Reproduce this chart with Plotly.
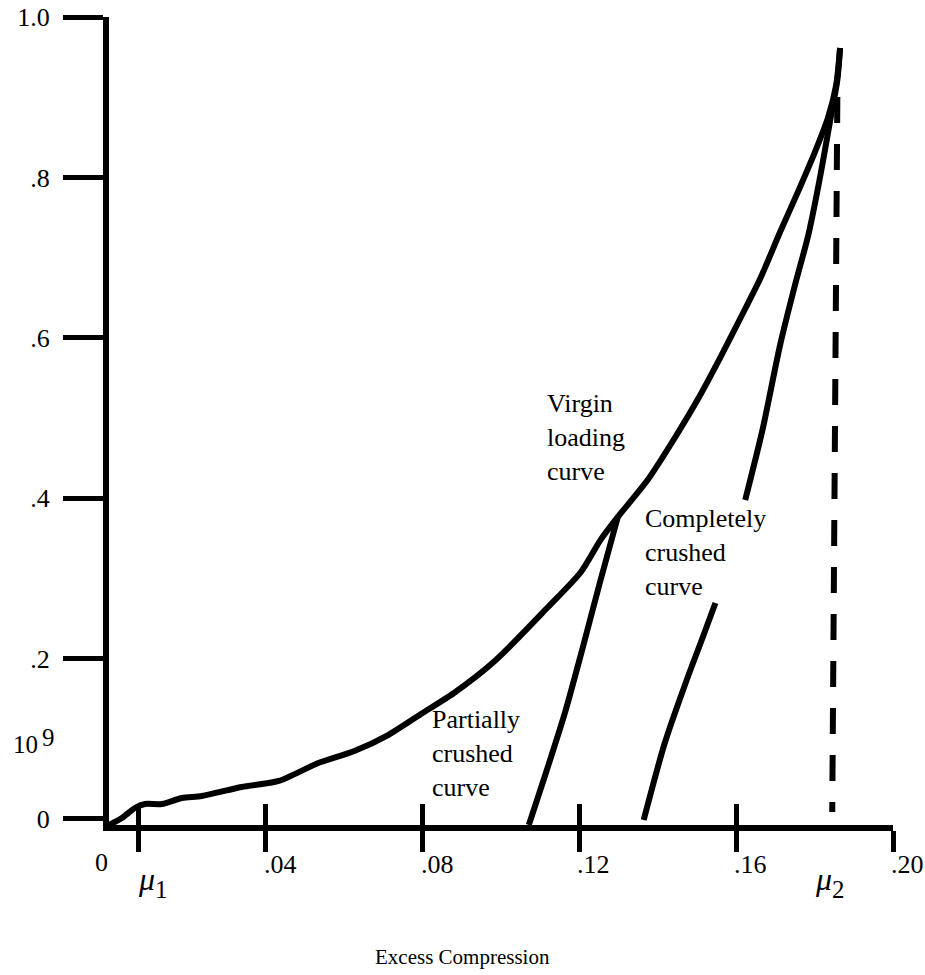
import plotly.graph_objects as go

# ---------------- data ----------------
virgin_x = [0.0, 0.0033, 0.0066, 0.0092, 0.0135, 0.0186, 0.0237, 0.0338, 0.0433,
            0.0534, 0.0626, 0.0712, 0.0796, 0.0880, 0.0987, 0.1120, 0.1204, 0.1254,
            0.1298, 0.1374, 0.1440, 0.1501, 0.1560, 0.1611, 0.1662, 0.1712, 0.1763,
            0.1801, 0.1834, 0.1855, 0.1865]
virgin_y = [-0.0075, 0.0012, 0.0137, 0.0187, 0.0187, 0.0262, 0.0287, 0.0399, 0.0474,
            0.0698, 0.0848, 0.1047, 0.1309, 0.1571, 0.1983, 0.2643, 0.3080, 0.3480,
            0.3766, 0.4227, 0.4726, 0.5224, 0.5760, 0.6247, 0.6746, 0.7319, 0.7880,
            0.8317, 0.8741, 0.9152, 0.9613]

partial_x = [0.1298, 0.1254, 0.1209, 0.1163, 0.1117, 0.1071]
partial_y = [0.3766, 0.2980, 0.2145, 0.1322, 0.0611, -0.0075]

complete_x = [0.1364, 0.1417, 0.1471, 0.1514, 0.1547, None,
              0.1623, 0.1667, 0.1712, 0.1750, 0.1784, 0.1814, 0.1840, 0.1858, 0.1865]
complete_y = [-0.0012, 0.0935, 0.1696, 0.2257, 0.2693, None,
              0.3978, 0.4850, 0.5910, 0.6658, 0.7282, 0.8005, 0.8716, 0.9214, 0.9613]

limit_x = [0.1858, 0.1845]
limit_y = [0.9002, 0.0087]

x_tick_vals = [0.0076, 0.04, 0.08, 0.12, 0.16, 0.20]
x_label_vals = [0.04, 0.08, 0.12, 0.16, 0.20]
x_label_text = [".04", ".08", ".12", ".16", ".20"]
y_tick_vals = [0, 0.2, 0.4, 0.6, 0.8, 1.0]
y_tick_text = ["0", ".2", ".4", ".6", ".8", "1.0"]
mu_x = [0.0076, 0.1804]
mu_sub = ["1", "2"]

x_title = "Excess Compression"
# ---------------------------------------------------------------

W, H = 925, 975
L, R, T, B = 109, 893, 17, 825
FONT = "Liberation Serif, Times New Roman, serif"


def px_x(px):
    return (px - L) / (R - L)


def px_y(py):
    return (B - py) / (B - T)


fig = go.Figure()
line_style = dict(color="black", width=6)
fig.add_trace(go.Scatter(x=virgin_x, y=virgin_y, mode="lines", line=line_style,
                         line_shape="spline", line_smoothing=0.7, hoverinfo="skip"))
fig.add_trace(go.Scatter(x=partial_x, y=partial_y, mode="lines", line=line_style,
                         line_shape="spline", line_smoothing=0.7, hoverinfo="skip"))
fig.add_trace(go.Scatter(x=complete_x, y=complete_y, mode="lines", line=line_style,
                         line_shape="spline", line_smoothing=0.7, connectgaps=False,
                         hoverinfo="skip"))
fig.add_trace(go.Scatter(x=limit_x, y=limit_y, mode="lines",
                         line=dict(color="black", width=6, dash="26px,21px"),
                         hoverinfo="skip"))
# invisible trace on the overlay axis so its inside ticks render
fig.add_trace(go.Scatter(x=[0, 0.2], y=[0, 0], xaxis="x2", mode="lines",
                         line=dict(width=0), hoverinfo="skip"))

tick_font = dict(size=26, family=FONT, color="black")
annotations = []
for v, t in zip(x_label_vals, x_label_text):
    annotations.append(dict(x=v, y=px_y(864), xref="x", yref="paper", text=t,
                            showarrow=False, xanchor="left", yanchor="middle",
                            xshift=-4, font=tick_font))
annotations.append(dict(x=0, y=px_y(862), xref="x", yref="paper", text="0",
                        showarrow=False, xanchor="right", yanchor="middle", xshift=1,
                        font=tick_font))
for mx, sub in zip(mu_x, mu_sub):
    annotations.append(dict(x=mx, y=px_y(879), xref="x", yref="paper",
                            text="<i>μ</i>", showarrow=False,
                            xanchor="left", yanchor="middle", xshift=-3,
                            font=dict(size=32, family=FONT, color="black")))
    annotations.append(dict(x=mx, y=px_y(889), xref="x", yref="paper",
                            text=sub, showarrow=False,
                            xanchor="left", yanchor="middle", xshift=14,
                            font=dict(size=25, family=FONT, color="black")))
annotations.append(dict(x=px_x(11), y=px_y(744), xref="paper", yref="paper", text="10",
                        showarrow=False, xanchor="left", yanchor="middle",
                        font=dict(size=25, family=FONT, color="black")))
annotations.append(dict(x=px_x(40), y=px_y(737), xref="paper", yref="paper", text="9",
                        showarrow=False, xanchor="left", yanchor="middle",
                        font=dict(size=25, family=FONT, color="black")))
annotations.append(dict(x=px_x(462), y=px_y(957), xref="paper", yref="paper", text=x_title,
                        showarrow=False, xanchor="center", yanchor="middle",
                        font=dict(size=21, family=FONT, color="black")))
label_font = dict(size=26, family=FONT, color="black")
annotations.append(dict(x=px_x(545), y=px_y(437), xref="paper", yref="paper",
                        text="Virgin<br>loading<br>curve", showarrow=False, align="left",
                        xanchor="left", yanchor="middle", font=label_font))
annotations.append(dict(x=px_x(430), y=px_y(753), xref="paper", yref="paper",
                        text="Partially<br>crushed<br>curve", showarrow=False, align="left",
                        xanchor="left", yanchor="middle", font=label_font))
annotations.append(dict(x=px_x(643), y=px_y(553), xref="paper", yref="paper",
                        text="Completely<br>crushed<br>curve", showarrow=False, align="left",
                        xanchor="left", yanchor="middle", font=label_font))

fig.update_layout(
    width=W, height=H,
    margin=dict(l=L, r=W - R, t=T, b=H - B, pad=0, autoexpand=False),
    paper_bgcolor="white", plot_bgcolor="white",
    showlegend=False,
    font=dict(family=FONT, color="black"),
    xaxis=dict(range=[0, 0.2], showgrid=False, zeroline=False, showline=True,
               linecolor="black", linewidth=6, ticks="outside", ticklen=21,
               tickwidth=5, tickcolor="black", tickvals=x_tick_vals,
               showticklabels=False, fixedrange=True, automargin=False),
    xaxis2=dict(range=[0, 0.2], overlaying="x", anchor="y", side="bottom",
                showgrid=False, zeroline=False, showline=False, ticks="inside",
                ticklen=21, tickwidth=5, tickcolor="black", tickvals=x_tick_vals,
                showticklabels=False, fixedrange=True, automargin=False),
    yaxis=dict(range=[-0.0075, 1.0], showgrid=False, zeroline=False, showline=True,
               linecolor="black", linewidth=6, ticks="outside", ticklen=40,
               tickwidth=5, tickcolor="black", tickvals=y_tick_vals,
               ticktext=y_tick_text, ticklabelstandoff=8,
               tickfont=tick_font, fixedrange=True, automargin=False),
    annotations=annotations,
)

fig.write_html("out.html", config={"displayModeBar": False},
               post_script="document.body.style.margin='0px';document.body.style.overflow='hidden';")
